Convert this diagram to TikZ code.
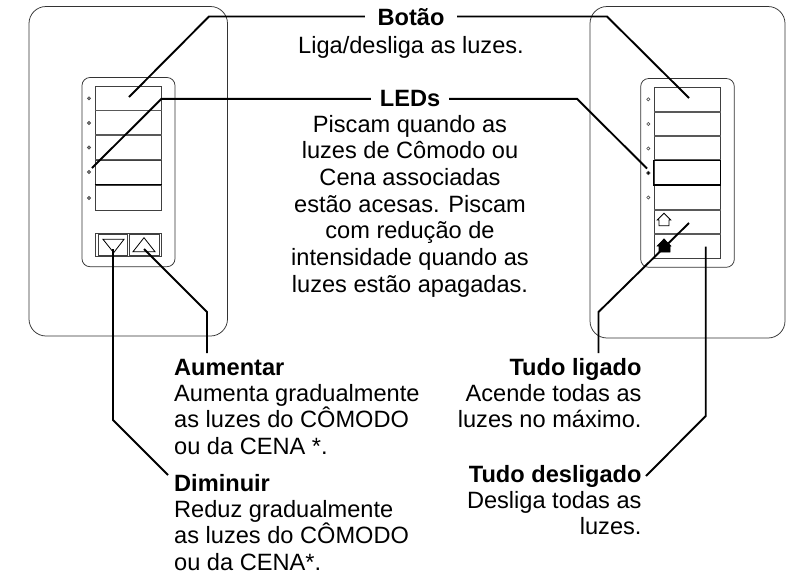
\documentclass[tikz,border=0pt]{standalone}
\usepackage{fontspec}
\usepackage{xcolor}
\usetikzlibrary{positioning}
\setmainfont{Liberation Sans}

\begin{document}
\begin{tikzpicture}[
        x=1pt,
        y=-1pt,
        espelho/.style={
            draw=black!80,
            line width=0.75pt,
            rounded corners=17pt
        },
        teclado/.style={
            draw=black!80,
            line width=0.75pt,
            rounded corners=8pt
        },
        tecla/.style={
            draw=black!75,
            rectangle,
            line width=0.75pt,
            inner sep=0pt,
            outer sep=0pt,
            minimum width=66.7pt,
            minimum height=24.4pt
        },
        divisa/.style={
            draw=black!65,
            line width=1.5pt
        },
        forte/.style={
            draw=black,
            line width=1.6pt
        },
        led/.style={
            circle,
            draw=black!70,
            line width=0.6pt,
            inner sep=0pt,
            minimum size=3.2pt
        },
        seta/.style={
            draw=black,
            line width=0.8pt
        },
        leader/.style={
            draw=black,
            line width=1.9pt,
            line join=miter
        },
        titulo/.style={
            font=\fontsize{23.6}{26.7}\selectfont\bfseries,
            inner ysep=0pt,
            text height=18.7pt,
            text depth=8pt
        },
        legenda/.style={
            font=\fontsize{23.6}{26.7}\selectfont,
            inner ysep=0pt,
            execute at begin node=\strut
        }
    ]
        \useasboundingbox (0,0) rectangle (795,576);

        \draw[espelho] (29,6.5) rectangle (227.5,336);
        \draw[teclado] (82,77.5) rectangle (175,266.7);
        \foreach \n/\yy in {1/98.5,2/122.8,3/147.3,4/172.3,5/198} {
            \node[tecla] (esq\n) at (128.3,\yy) {};
        }
        \foreach \n in {1,2,3} {
            \draw[divisa] (esq\n.south west) -- (esq\n.south east);
        }
        \draw[forte] (esq4.south west) -- (esq4.south east);
        \foreach \n/\yy in {1/98.3,2/123,3/147.5,4/172,5/198} {
            \node[led, fill=black!45] (ledEsq\n) at (89,\yy) {};
        }
        \node[tecla, minimum height=23.4pt] (moldura) at (128.3,245) {};
        \node[tecla, minimum width=29.5pt, minimum height=21pt] (menos) at (112.7,245) {};
        \node[tecla, minimum width=30pt, minimum height=21pt] (mais) at (144,245) {};
        \draw[seta] (103,239.3) -- (124,239.3) -- (113.7,252.7) -- cycle;
        \draw[seta] (133,251.7) -- (155,251.7) -- (144,237.7) -- cycle;

        \draw[espelho] (590,6.5) rectangle (785,338);
        \draw[teclado] (640.7,78.5) rectangle (734.3,267.3);
        \foreach \n/\yy in {1/99.8,2/123.8,3/148,4/172.8,5/197.8,6/222,7/246.5} {
            \node[tecla] (dir\n) at (687.3,\yy) {};
        }
        \foreach \n in {1,2,3,5,6} {
            \draw[divisa] (dir\n.south west) -- (dir\n.south east);
        }
        \node[tecla, draw=black, line width=1pt] (dirAceso) at (687.3,172.8) {};
        \draw[forte] (dirAceso.south west) -- (dirAceso.south east);
        \foreach \n/\yy in {1/99.3,2/124,3/148.5,5/197.5} {
            \node[led, fill=white] (ledDir\n) at (648.3,\yy) {};
        }
        \node[led, fill=black, minimum size=3.6pt] (ledDir4) at (648.3,173) {};
        \draw[seta] (657.3,220) -- (664,213.3) -- (670.7,220) -- (669,220) -- (669,225.7) -- (659,225.7) -- (659,220) -- cycle;
        \draw[seta, fill=black] (657.3,246) -- (664,239) -- (670.7,246) -- (670,246) -- (670,252) -- (659,252) -- (659,246) -- cycle;

        \node[titulo, minimum width=92pt] (botao) at (411,20.6) {Botão};
        \node[legenda, align=center, below=0pt of botao] (botaoTexto) {Liga/desliga as luzes.};
        \node[titulo, minimum width=78pt] (leds) at (410,101.3) {LEDs};
        \node[legenda, align=center, below=0pt of leds] (ledsTexto) {Piscam quando as\\luzes de Cômodo ou\\Cena associadas\\estão acesas. Piscam\\com redução de\\intensidade quando as\\luzes estão apagadas.};
        \node[titulo, inner xsep=6pt, anchor=west] (aumentar) at (168,370.3) {Aumentar};
        \node[legenda, inner xsep=6pt, align=left, anchor=north west] (aumentarTexto) at (aumentar.south west) {Aumenta gradualmente\\as luzes do CÔMODO\\ou da CENA *.};
        \node[titulo, inner xsep=6pt, anchor=west] (diminuir) at (168,486.3) {Diminuir};
        \node[legenda, inner xsep=6pt, align=left, anchor=north west] (diminuirTexto) at (diminuir.south west) {Reduz gradualmente\\as luzes do CÔMODO\\ou da CENA*.};
        \node[titulo, inner xsep=4.3pt, anchor=east] (ligado) at (646,370.3) {Tudo ligado};
        \node[legenda, inner xsep=4.3pt, align=right, anchor=north east] (ligadoTexto) at (ligado.south east) {Acende todas as\\luzes no máximo.};
        \node[titulo, inner xsep=4.3pt, anchor=east] (desligado) at (646,477.3) {Tudo desligado};
        \node[legenda, inner xsep=4.3pt, align=right, anchor=north east] (desligadoTexto) at (desligado.south east) {Desliga todas as\\luzes.};

        \coordinate (botaoEsq) at (209,16.5);
        \coordinate (botaoEsqFim) at (129,97);
        \coordinate (botaoDir) at (607,16.5);
        \coordinate (botaoDirFim) at (689,98);
        \coordinate (ledsEsq) at (161.5,98.8);
        \coordinate (ledsEsqFim) at (92,168);
        \coordinate (ledsDir) at (577,98.8);
        \coordinate (ledsDirFim) at (647,168.5);
        \coordinate (maisFim) at (144,249);
        \coordinate (maisDobra) at (207,312);
        \coordinate (maisTexto) at (207,353);
        \coordinate (menosFim) at (113,249);
        \coordinate (menosDobra) at (113,420);
        \coordinate (ligadoFim) at (689,223);
        \coordinate (ligadoDobra) at (598.5,312);
        \coordinate (ligadoTopo) at (598.5,353);
        \coordinate (desligadoFim) at (705.7,246.5);
        \coordinate (desligadoDobra) at (705.7,416);

        \draw[leader] ([yshift=4.1pt]botao.west) -- (botaoEsq) -- (botaoEsqFim);
        \draw[leader] ([yshift=4.1pt]botao.east) -- (botaoDir) -- (botaoDirFim);
        \draw[leader] ([yshift=2.5pt]leds.west) -- (ledsEsq) -- (ledsEsqFim);
        \draw[leader] ([yshift=2.5pt]leds.east) -- (ledsDir) -- (ledsDirFim);
        \draw[leader] (maisFim) -- (maisDobra) -- (maisTexto);
        \draw[leader] (menosFim) -- (menosDobra) -- ([yshift=11.3pt]diminuir.west);
        \draw[leader] (ligadoFim) -- (ligadoDobra) -- (ligadoTopo);
        \draw[leader] (desligadoFim) -- (desligadoDobra) -- ([yshift=1.3pt]desligado.east);
    \end{tikzpicture}
\end{document}
